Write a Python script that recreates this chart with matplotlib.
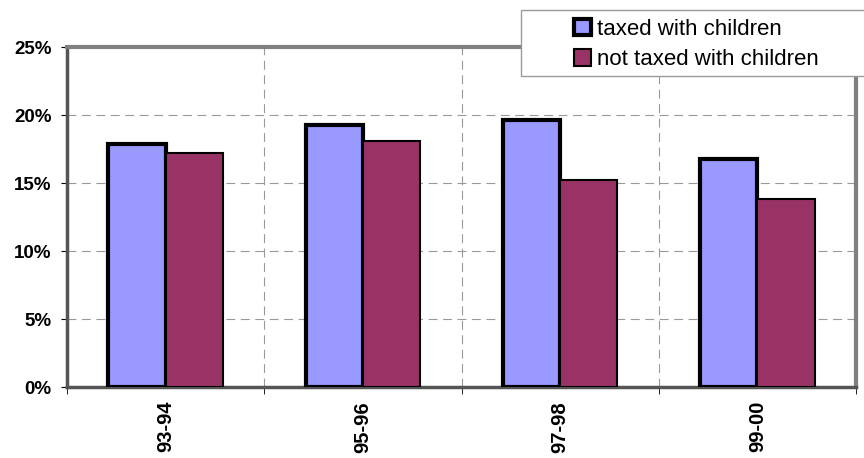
import numpy as np
import matplotlib.pyplot as plt
from matplotlib.patches import Patch, Rectangle

periods = ['93-94', '95-96', '97-98', '99-00']
taxed = [17.9, 19.3, 19.6, 16.8]
not_taxed = [17.2, 18.1, 15.2, 13.8]

plt.rcParams['font.family'] = 'Liberation Sans'

fig = plt.figure(figsize=(8.64, 4.58), dpi=100)
ax = fig.add_axes([67/864, 71/458, 789/864, 340/458])

x = np.arange(len(periods))
w = 0.29
ax.bar(x - w/2, taxed, w, color='#9999FF', edgecolor='black', linewidth=3, zorder=3)
ax.bar(x + w/2, not_taxed, w, color='#993366', edgecolor='black', linewidth=1.5, zorder=3)

ax.set_xlim(-0.5, len(periods) - 0.5)
ax.set_ylim(0, 25)
ax.set_yticks(np.arange(0, 26, 5))
ax.set_yticklabels([f'{v}%' for v in range(0, 26, 5)], fontsize=13.5, fontweight='bold')

# category labels at centres, tick marks at the boundaries
ax.set_xticks(x)
ax.set_xticklabels(periods, rotation=90, fontsize=14.5, fontweight='bold')
ax.tick_params(axis='x', length=0, pad=10)
ax.set_xticks(np.arange(-0.5, len(periods)), minor=True)
ax.tick_params(axis='x', which='minor', length=5, direction='out', color='black')
ax.tick_params(axis='y', length=4, pad=7, direction='out', color='black')

ax.grid(axis='y', linestyle=(0, (8, 5)), color='#999999', linewidth=0.8, zorder=0)
ax.grid(axis='x', which='minor', linestyle=(0, (8, 5)), color='#999999', linewidth=0.8, zorder=0)

for side in ['top', 'right']:
    ax.spines[side].set_color('#808080')
    ax.spines[side].set_linewidth(3)
for side in ['left', 'bottom']:
    ax.spines[side].set_color('#555555')
    ax.spines[side].set_linewidth(2.5)

# legend box runs past the right edge of the figure
box = Rectangle((521/864, 1 - 76/458), 360/864, 66/458, transform=fig.transFigure,
                facecolor='white', edgecolor='#999999', linewidth=1, zorder=9)
fig.add_artist(box)

handles = [Patch(facecolor='#9999FF', edgecolor='black', linewidth=3),
           Patch(facecolor='#993366', edgecolor='black', linewidth=1.5)]
leg = fig.legend(handles, ['taxed with children', 'not taxed with children'],
                 loc='upper left', bbox_to_anchor=(574/864, 1 - 19/458),
                 fontsize=16, frameon=False,
                 handlelength=0.75, handleheight=0.75, handletextpad=0.3,
                 borderpad=0, labelspacing=0.42, borderaxespad=0)
leg.set_zorder(10)

fig.savefig('out.png', dpi=100)
